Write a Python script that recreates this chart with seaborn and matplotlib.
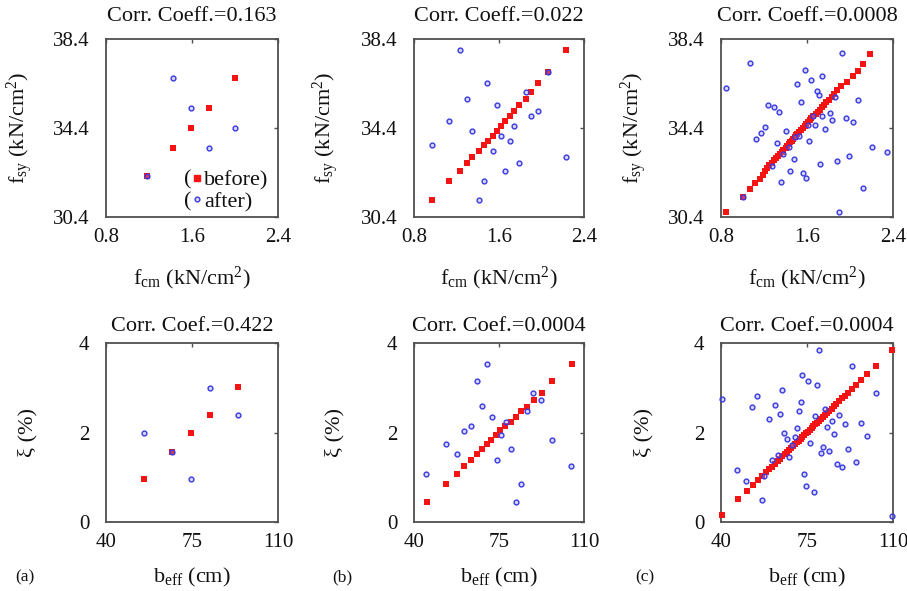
import matplotlib
matplotlib.use("Agg")
import matplotlib.pyplot as plt
import seaborn as sns
from matplotlib.lines import Line2D

# ---------------- data ----------------
# (a) top: f_cm vs f_sy, 5 samples
fcm_a_before = [1.18, 1.42, 1.59, 1.76, 2.00]
fsy_a_before = [32.24, 33.49, 34.39, 35.28, 36.63]
fcm_a_after = [1.18, 1.42, 1.59, 1.76, 2.00]
fsy_a_after = [32.24, 36.63, 35.28, 33.49, 34.39]

# (b) top: 20 samples
fcm_b_before = [0.97, 1.13, 1.23, 1.30, 1.35, 1.41, 1.46, 1.50, 1.54, 1.58,
                1.62, 1.66, 1.70, 1.74, 1.79, 1.85, 1.90, 1.97, 2.06, 2.23]
fsy_b_before = [31.18, 32.00, 32.47, 32.81, 33.11, 33.38, 33.62, 33.83, 34.06, 34.27,
                34.49, 34.70, 34.92, 35.18, 35.42, 35.69, 36.02, 36.41, 36.93, 37.91]
fcm_b_after = [1.23, 1.49, 1.30, 1.58, 1.85, 1.13, 1.35, 0.97, 1.62, 1.74,
               1.70, 1.54, 1.90, 1.97, 1.79, 1.66, 1.46, 1.41, 2.23, 2.06]
fsy_b_after = [37.91, 36.41, 35.69, 35.42, 36.02, 34.70, 34.27, 33.62, 34.06, 34.49,
               33.83, 33.38, 34.92, 35.18, 32.81, 32.47, 32.00, 31.18, 33.11, 36.93]

# (c) top: 50 samples
fcm_c_before = [0.85, 1.00, 1.07, 1.12, 1.16, 1.19, 1.21, 1.23, 1.25, 1.27,
                1.29, 1.31, 1.33, 1.35, 1.37, 1.38, 1.40, 1.41, 1.43, 1.44,
                1.46, 1.47, 1.49, 1.50, 1.51, 1.53, 1.54, 1.56, 1.58, 1.59,
                1.61, 1.63, 1.64, 1.66, 1.68, 1.70, 1.72, 1.74, 1.76, 1.78,
                1.80, 1.83, 1.85, 1.88, 1.92, 1.97, 2.03, 2.07, 2.12, 2.19]
fsy_c_before = [30.62, 31.30, 31.66, 31.92, 32.13, 32.30, 32.46, 32.59, 32.72, 32.84,
                32.95, 33.05, 33.15, 33.24, 33.33, 33.42, 33.51, 33.59, 33.67, 33.75,
                33.83, 33.91, 33.99, 34.07, 34.14, 34.22, 34.31, 34.39, 34.48, 34.57,
                34.65, 34.74, 34.83, 34.93, 35.02, 35.12, 35.22, 35.33, 35.44, 35.55,
                35.67, 35.80, 35.94, 36.09, 36.27, 36.46, 36.72, 36.98, 37.28, 37.74]
fcm_c_after = [0.85, 1.07, 1.93, 1.58, 1.64, 1.74, 1.51, 1.69, 1.71, 1.54,
               1.24, 1.29, 1.34, 2.07, 1.86, 1.81, 1.74, 1.83, 1.96, 2.03,
               1.21, 1.17, 1.13, 1.40, 1.61, 1.67, 1.77, 1.32, 1.49, 1.62,
               2.20, 2.34, 1.43, 1.38, 1.48, 1.99, 1.88, 1.72, 1.27, 1.44,
               1.56, 1.59, 1.36, 2.12, 1.90, 1.00, 1.53, 1.66]
fsy_c_after = [36.20, 37.31, 37.76, 36.99, 36.56, 36.74, 36.36, 36.06, 35.90, 35.55,
               35.43, 35.36, 35.13, 35.66, 35.78, 35.06, 34.94, 34.77, 34.85, 34.68,
               34.43, 34.16, 33.91, 34.25, 34.55, 34.52, 34.34, 33.73, 33.98, 33.80,
               33.55, 33.34, 33.53, 33.25, 33.01, 33.14, 32.90, 32.77, 32.68, 32.48,
               32.36, 32.15, 31.96, 31.69, 30.64, 31.31, 34.04, 34.92]

# (a) bottom: b_eff vs xi
beff_a_before = [55.6, 66.8, 74.7, 82.2, 93.9]
xi_a_before = [0.97, 1.56, 1.98, 2.40, 3.01]
beff_a_after = [55.6, 66.8, 74.7, 82.2, 93.9]
xi_a_after = [1.98, 1.56, 0.97, 3.00, 2.40]

# (b) bottom
beff_b_before = [45.4, 53.0, 57.6, 60.7, 63.6, 65.9, 68.0, 69.9, 71.8, 73.8,
                 75.5, 77.5, 79.8, 81.9, 84.2, 86.5, 89.3, 92.6, 97.0, 105.1]
xi_b_before = [0.44, 0.85, 1.08, 1.25, 1.39, 1.51, 1.63, 1.74, 1.84, 1.94,
               2.06, 2.15, 2.24, 2.35, 2.47, 2.58, 2.72, 2.89, 3.14, 3.53]
beff_b_after = [44.9, 53.0, 57.6, 60.7, 63.6, 65.9, 68.0, 70.1, 72.1, 74.0,
                75.8, 77.7, 79.8, 81.9, 83.9, 86.5, 89.1, 92.4, 97.0, 104.6]
xi_b_after = [1.07, 1.74, 1.52, 2.04, 2.14, 3.14, 2.59, 3.53, 2.35, 1.39,
              1.94, 2.24, 1.63, 0.44, 0.85, 2.47, 2.89, 2.72, 1.84, 1.25]

# (c) bottom
beff_c_before = [40.3, 47.0, 50.5, 53.0, 55.0, 56.7, 58.2, 59.6, 60.8, 61.9,
                 63.0, 64.0, 65.0, 65.9, 66.8, 67.6, 68.4, 69.3, 70.1, 70.8,
                 71.6, 72.4, 73.1, 73.9, 74.6, 75.4, 76.1, 76.9, 77.6, 78.4,
                 79.2, 79.9, 80.7, 81.6, 82.4, 83.2, 84.1, 85.0, 86.0, 87.0,
                 88.1, 89.2, 90.4, 91.8, 93.3, 95.0, 97.0, 99.5, 103.0, 109.7]
xi_c_before = [0.16, 0.51, 0.70, 0.83, 0.94, 1.03, 1.11, 1.18, 1.24, 1.30,
               1.36, 1.41, 1.47, 1.51, 1.56, 1.61, 1.65, 1.69, 1.74, 1.78,
               1.82, 1.86, 1.90, 1.94, 1.98, 2.02, 2.06, 2.10, 2.14, 2.18,
               2.22, 2.26, 2.31, 2.35, 2.39, 2.44, 2.49, 2.53, 2.59, 2.64,
               2.70, 2.76, 2.82, 2.89, 2.97, 3.06, 3.17, 3.30, 3.49, 3.84]
beff_c_after = [40.3, 109.7, 79.9, 93.3, 73.0, 75.4, 79.1, 65.0, 103.1, 54.8,
                52.8, 61.8, 64.0, 59.5, 72.4, 71.6, 78.3, 82.5, 88.0, 85.2,
                83.3, 85.9, 90.6, 97.1, 99.6, 65.6, 66.7, 70.8, 68.8, 76.2,
                81.5, 80.7, 84.1, 91.8, 95.1, 87.2, 89.4, 63.2, 67.7, 60.8,
                46.5, 50.2, 73.9, 74.7, 77.7, 56.7, 57.6, 70.0]
xi_c_after = [2.74, 0.13, 3.84, 3.48, 3.29, 3.16, 3.06, 2.95, 2.89, 2.81,
              2.57, 2.62, 2.42, 2.30, 2.68, 2.47, 2.36, 2.52, 2.39, 2.25,
              2.12, 1.96, 2.18, 2.21, 1.92, 2.00, 1.85, 2.09, 1.72, 1.76,
              1.68, 1.55, 1.59, 1.63, 1.35, 1.29, 1.23, 1.50, 1.45, 1.38,
              1.17, 0.91, 1.08, 0.81, 0.68, 0.49, 1.02, 1.91]

top_titles = ["Corr. Coeff.=0.163", "Corr. Coeff.=0.022", "Corr. Coeff.=0.0008"]
bottom_titles = ["Corr. Coef.=0.422", "Corr. Coef.=0.0004", "Corr. Coef.=0.0004"]
top_xticks = [0.8, 1.6, 2.4]
top_yticks = [30.4, 34.4, 38.4]
bottom_xticks = [40, 75, 110]
bottom_yticks = [0, 2, 4]
panel_labels = ["(a)", "(b)", "(c)"]
legend_labels = ["before)", "after)"]

# ---------------- style ----------------
sns.set_style("white")
plt.rcParams.update({
    "font.family": ["Liberation Serif", "DejaVu Serif"],
    "mathtext.fontset": "custom",
    "mathtext.rm": "Liberation Serif",
    "mathtext.it": "Liberation Serif:italic",
    "mathtext.bf": "Liberation Serif:bold",
    "axes.edgecolor": "#505050",
    "axes.linewidth": 1.3,
    "text.color": "#111111",
    "axes.labelcolor": "#111111",
    "xtick.color": "#505050",
    "ytick.color": "#505050",
    "xtick.labelcolor": "#111111",
    "ytick.labelcolor": "#111111",
})

RED = "#f41414"
BLUE = "#3a3ae0"
BLUE_FILL = (0.55, 0.55, 1.0, 0.35)

fig = plt.figure(figsize=(9.07, 5.91), dpi=100)
W, H = 907.0, 591.0

col_px = [(106, 278), (414, 584), (721, 893)]
top_px = (39, 217)
bot_px = (343, 522)


def make_ax(cols, rows):
    x0, x1 = cols
    y0, y1 = rows
    return fig.add_axes([x0 / W, 1 - y1 / H, (x1 - x0) / W, (y1 - y0) / H])


def draw(ax, xb, yb, xa, ya):
    sns.scatterplot(x=xb, y=yb, ax=ax, marker="s", color=RED, s=17,
                    linewidth=0, clip_on=False, zorder=3)
    sns.scatterplot(x=xa, y=ya, ax=ax, marker="o", color=BLUE, s=12,
                    linewidth=1.0, clip_on=False, zorder=4)
    coll = ax.collections[-1]
    coll.set_facecolor(BLUE_FILL)
    coll.set_edgecolor(BLUE)


def style(ax, xlim, ylim, xticks, yticks, title, pad, xlabel, ylabel, xly, ylx):
    ax.set_xlim(*xlim)
    ax.set_ylim(*ylim)
    ax.set_xticks(xticks)
    ax.set_yticks(yticks)
    ax.set_xticklabels([f"{t:g}" for t in xticks])
    ax.set_yticklabels([f"{t:g}" for t in yticks])
    ax.tick_params(direction="in", top=True, right=True, length=3, width=1,
                   labelsize=15)
    ax.tick_params(axis="x", pad=8)
    ax.tick_params(axis="y", pad=12)
    ax.set_title(title, fontsize=16, pad=pad)
    ax.set_xlabel(xlabel, fontsize=16)
    ax.set_ylabel(ylabel, fontsize=16)
    ax.xaxis.set_label_coords(0.5, xly)
    ax.yaxis.set_label_coords(ylx, 0.5)
    for sp in ax.spines.values():
        sp.set_visible(True)


xlab_top = r"f$_{\mathregular{cm}}$ (kN/cm$^{\mathregular{2}}$)"
ylab_top = r"f$_{\mathregular{sy}}$ (kN/cm$^{\mathregular{2}}$)"
xlab_bot = r"b$_{\mathregular{eff}}$ (cm)"
ylab_bot = "ξ (%)"

top_data = [(fcm_a_before, fsy_a_before, fcm_a_after, fsy_a_after),
            (fcm_b_before, fsy_b_before, fcm_b_after, fsy_b_after),
            (fcm_c_before, fsy_c_before, fcm_c_after, fsy_c_after)]
bot_data = [(beff_a_before, xi_a_before, beff_a_after, xi_a_after),
            (beff_b_before, xi_b_before, beff_b_after, xi_b_after),
            (beff_c_before, xi_c_before, beff_c_after, xi_c_after)]
top_ylx = [-0.413, -0.43, -0.419]
bot_ylx = [-0.40, -0.406, -0.395]

top_axes = []
for i in range(3):
    ax = make_ax(col_px[i], top_px)
    draw(ax, *top_data[i])
    style(ax, (0.8, 2.4), (30.4, 38.4), top_xticks, top_yticks, top_titles[i],
          13, xlab_top, ylab_top, -0.27, top_ylx[i])
    top_axes.append(ax)

for i in range(3):
    ax = make_ax(col_px[i], bot_px)
    draw(ax, *bot_data[i])
    style(ax, (40, 110), (0, 4), bottom_xticks, bottom_yticks, bottom_titles[i],
          8.5, xlab_bot, ylab_bot, -0.245, bot_ylx[i])

# legend in panel (a) top: "( marker before)"
ax = top_axes[0]
handles = [Line2D([], [], marker="s", color=RED, ls="", markersize=4.2),
           Line2D([], [], marker="o", mfc=BLUE_FILL, mec=BLUE, mew=1.0, ls="",
                  markersize=3.4)]
ax.legend(handles, legend_labels, loc="center left",
          bbox_to_anchor=(0.506, 0.146), frameon=False, fontsize=16,
          handlelength=0.4, handletextpad=0.1, labelspacing=0.05,
          borderpad=0, borderaxespad=0)
for yy in (0.208, 0.084):
    ax.text(0.455, yy, "(", transform=ax.transAxes, fontsize=16,
            ha="left", va="center")

for lab, xpx in zip(panel_labels, (15, 332, 635)):
    fig.text(xpx / W, 1 - 581 / H, lab, fontsize=12.5, ha="left", va="baseline")

fig.savefig("out.png", dpi=100)
